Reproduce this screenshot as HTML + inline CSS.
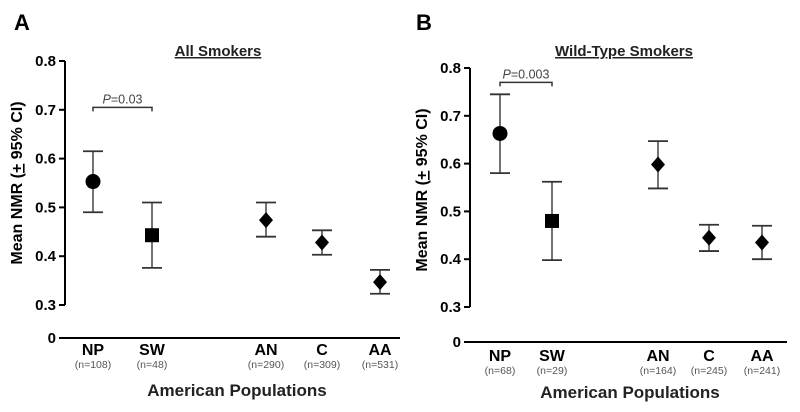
<!DOCTYPE html>
<html><head><meta charset="utf-8"><style>
html,body{margin:0;padding:0;background:#fff;}
svg{display:block;font-family:"Liberation Sans",Arial,sans-serif;}
</style></head><body>
<svg id="chart" width="800" height="412" viewBox="0 0 800 412"></svg>
<script>
const categories = ["NP","SW","AN","C","AA"];
const nA = ["(n=108)","(n=48)","(n=290)","(n=309)","(n=531)"];
const nB = ["(n=68)","(n=29)","(n=164)","(n=245)","(n=241)"];
const meanA = [0.553,0.443,0.474,0.428,0.347];
const lowA = [0.490,0.376,0.440,0.403,0.323];
const highA = [0.615,0.510,0.510,0.453,0.372];
const meanB = [0.663,0.480,0.598,0.445,0.435];
const lowB = [0.580,0.398,0.548,0.417,0.400];
const highB = [0.745,0.562,0.647,0.472,0.470];
const markers = ["circle","square","diamond","diamond","diamond"];
const yTicks = [0.3,0.4,0.5,0.6,0.7,0.8];

const NS="http://www.w3.org/2000/svg";
const svg=document.getElementById('chart');
function el(tag,attrs,parent){const e=document.createElementNS(NS,tag);for(const k in attrs)e.setAttribute(k,attrs[k]);(parent||svg).appendChild(e);return e;}

function panel(cfg){
  const g=el('g',{});
  
  
  const y=v=>cfg.y08+(0.8-v)/0.5*(cfg.y03-cfg.y08);
  const x=i=>cfg.xs[i];
  let t=el('text',{x:cfg.letterX,y:30,'font-size':22,'font-weight':'bold'},g);t.textContent=cfg.letter;
  
  t=el('text',{x:cfg.titleX,y:56,'font-size':15,'font-weight':'bold','text-anchor':'middle','text-decoration':'underline',fill:'#222'},g);t.textContent=cfg.title;
  
  const ax=el('line',{x1:cfg.axX,x2:cfg.axX,y1:y(0.8),y2:y(0.3),stroke:'#000','stroke-width':2},g);
  
  yTicks.forEach(v=>{
    el('line',{x1:cfg.axX-6,x2:cfg.axX,y1:y(v),y2:y(v),stroke:'#000','stroke-width':2},g);
    const l=el('text',{x:cfg.axX-9,y:y(v)+5,'font-size':15,'font-weight':'bold','text-anchor':'end'},g);l.textContent=v.toFixed(1);
    
  });
  el('line',{x1:cfg.axX-6,x2:cfg.baseEnd,y1:cfg.y0,y2:cfg.y0,stroke:'#000','stroke-width':2},g);
  const z=el('text',{x:cfg.axX-9,y:cfg.y0+5,'font-size':15,'font-weight':'bold','text-anchor':'end'},g);z.textContent='0';
  
  const yt=el('text',{x:0,y:0,'font-size':16,'font-weight':'bold','text-anchor':'middle',transform:`translate(${cfg.ytX},${cfg.ytY}) rotate(-90)`},g);
  yt.innerHTML='Mean NMR (<tspan text-decoration="underline">+</tspan> 95% CI)';
  
  categories.forEach((c,i)=>{
    const a=el('text',{x:x(i),y:cfg.catY,'font-size':16,'font-weight':'bold','text-anchor':'middle'},g);a.textContent=c;
    
    const b=el('text',{x:x(i),y:cfg.catY+13,'font-size':10.5,'text-anchor':'middle',fill:'#555'},g);b.textContent=cfg.n[i];
    
  });
  const xt=el('text',{x:cfg.xtX,y:cfg.xtY,'font-size':17,'font-weight':'bold','text-anchor':'middle',fill:'#222'},g);xt.textContent='American Populations';
  
  const by=y(cfg.brV);
  const br=el('path',{d:`M${x(0)},${by+4}V${by}H${x(1)}V${by+4}`,fill:'none',stroke:'#333','stroke-width':1.5},g);
  
  const pt=el('text',{x:(x(0)+x(1))/2,y:by-4,'font-size':12.5,'text-anchor':'middle',fill:'#444'},g);
  pt.innerHTML='<tspan font-style="italic">P</tspan>='+cfg.p;
  
  categories.forEach((c,i)=>{
    const eg=el('g',{},g);
    
    
    const xi=x(i),yl=y(cfg.low[i]),yh=y(cfg.high[i]),ym=y(cfg.mean[i]);
    el('line',{x1:xi,x2:xi,y1:yh,y2:yl,stroke:'#444','stroke-width':1.5},eg);
    el('line',{x1:xi-10,x2:xi+10,y1:yh,y2:yh,stroke:'#333','stroke-width':1.8},eg);
    el('line',{x1:xi-10,x2:xi+10,y1:yl,y2:yl,stroke:'#333','stroke-width':1.8},eg);
    let m;
    if(markers[i]==='circle') m=el('circle',{cx:xi,cy:ym,r:7.5,fill:'#000'},eg);
    else if(markers[i]==='square') m=el('rect',{x:xi-7,y:ym-7,width:14,height:14,fill:'#000'},eg);
    else m=el('path',{d:`M${xi},${ym-8}L${xi+7},${ym}L${xi},${ym+8}L${xi-7},${ym}Z`,fill:'#000'},eg);
    
    
  });
}
panel({id:'panel-a',letter:'A',letterX:14,title:'All Smokers',titleX:218,axX:65,y08:61,y03:305,y0:338,baseEnd:400,
  xs:[93,152,266,322,380],n:nA,mean:meanA,low:lowA,high:highA,brV:0.705,p:'0.03',ytX:22,ytY:183,catY:355,xtX:237,xtY:396});
panel({id:'panel-b',letter:'B',letterX:416,title:'Wild-Type Smokers',titleX:624,axX:470,y08:68,y03:307,y0:342,baseEnd:787,
  xs:[500,552,658,709,762],n:nB,mean:meanB,low:lowB,high:highB,brV:0.77,p:'0.003',ytX:427,ytY:190,catY:361,xtX:630,xtY:398});
</script>
</body></html>
